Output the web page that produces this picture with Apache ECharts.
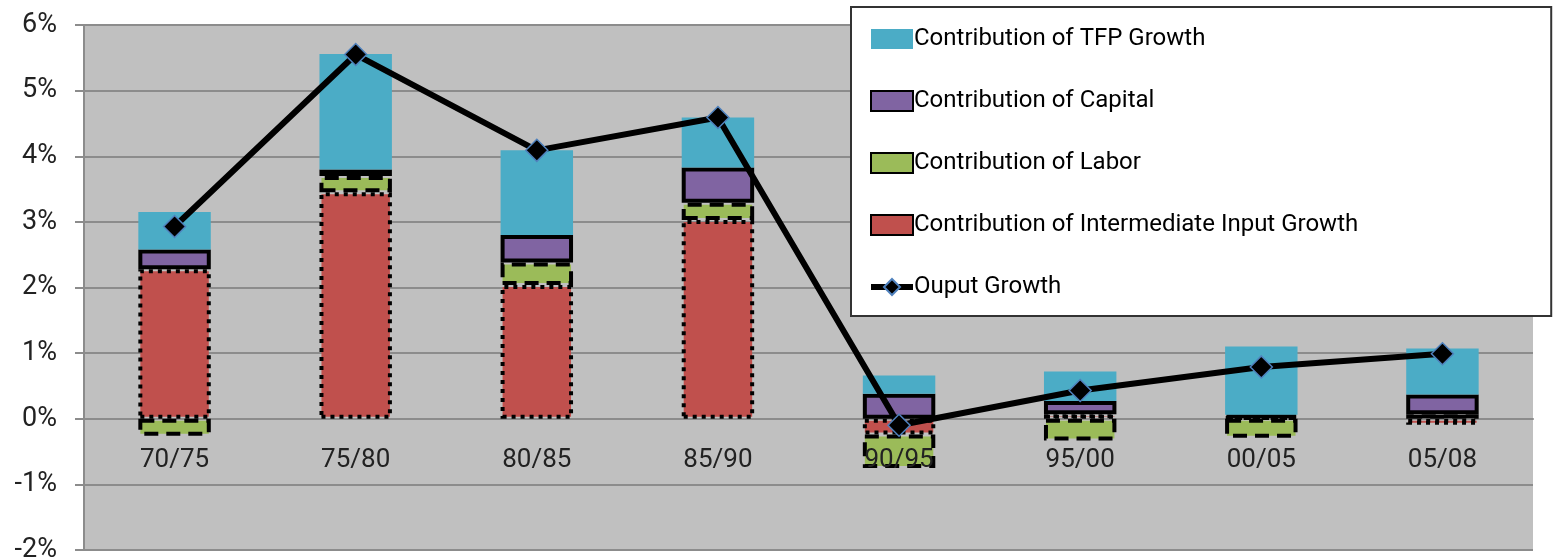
<!DOCTYPE html>
<html>
<head>
<meta charset="utf-8">
<script src="https://cdn.jsdelivr.net/npm/echarts@6/dist/echarts.min.js"></script>
<style>
  html, body { margin: 0; padding: 0; background: #fff; }
  #chart { width: 1559px; height: 560px; }
</style>
</head>
<body>
<div id="chart"></div>
<script>
// periods and growth contributions, in percent
var periods = ['70/75', '75/80', '80/85', '85/90', '90/95', '95/00', '00/05', '05/08'];
var intermediate = [2.28, 3.45, 2.04, 3.03, -0.24, 0.07, 0.02, -0.09];
var labor = [-0.26, 0.25, 0.34, 0.26, -0.51, -0.33, -0.29, 0.07];
var capital = [0.30, 0.10, 0.42, 0.54, 0.38, 0.20, 0.04, 0.30];
var tfp = [0.57, 1.76, 1.29, 0.76, 0.28, 0.45, 1.04, 0.70];
var output = [2.93, 5.55, 4.09, 4.59, -0.10, 0.43, 0.79, 0.99];

var yMin = -2, yMax = 6;
var font = 'Roboto, "Open Sans", sans-serif';

// grid box
var gTop = 25, gBottom = 10, H = 560;
// the category axis sits on the 0% line
var zeroOffset = -(H - gTop - gBottom) * (0 - yMin) / (yMax - yMin);

var chart = echarts.init(document.getElementById('chart'));
var option = {
  animation: false,
  backgroundColor: '#fff',
  textStyle: { fontFamily: font },
  grid: {
    left: 84, right: 26, top: gTop, bottom: gBottom,
    containLabel: false, outerBoundsMode: 'none',
    show: true, backgroundColor: '#c0c0c0', borderWidth: 0
  },
  legend: {
    orient: 'vertical',
    left: 851, top: 7,
    padding: [20, 193, 17, 17],
    itemGap: 38,
    itemWidth: 42, itemHeight: 20,
    backgroundColor: '#fff',
    borderColor: '#333', borderWidth: 2,
    textStyle: { fontSize: 24, color: '#000', fontFamily: font, padding: [0, 0, 0, -4] },
    data: [
      { name: 'Contribution of TFP Growth', icon: 'rect' },
      { name: 'Contribution of Capital', icon: 'rect' },
      { name: 'Contribution of Labor', icon: 'rect' },
      { name: 'Contribution of Intermediate Input Growth', icon: 'rect' },
      { name: 'Ouput Growth', lineStyle: { width: 6 } }
    ]
  },
  xAxis: [
    {
      type: 'category',
      data: periods,
      position: 'bottom',
      offset: zeroOffset,
      axisLine: { onZero: false, lineStyle: { color: '#8c8c8c', width: 2 } },
      axisTick: { length: 8, lineStyle: { color: '#8c8c8c', width: 2 } },
      axisLabel: { show: false }
    },
    {
      // labels only, drawn above the bars
      type: 'category',
      data: periods,
      position: 'bottom',
      offset: zeroOffset,
      z: 4,
      axisLine: { show: false, onZero: false },
      axisTick: { show: false },
      axisLabel: { fontSize: 26, color: '#222', margin: 29 }
    }
  ],
  yAxis: {
    type: 'value',
    min: yMin, max: yMax, interval: 1,
    axisLine: { show: true, onZero: false, lineStyle: { color: '#8c8c8c', width: 2 } },
    axisTick: { show: true, length: 9, lineStyle: { color: '#8c8c8c', width: 2 } },
    axisLabel: { formatter: '{value}%', fontSize: 27, color: '#222', margin: 27 },
    splitLine: { lineStyle: { color: '#8c8c8c', width: 2 } }
  },
  series: [
    {
      name: 'Contribution of Intermediate Input Growth',
      type: 'bar', stack: 'c', barWidth: '40%',
      data: intermediate,
      itemStyle: { color: '#c0504d', borderColor: '#000', borderWidth: 4, borderType: [4, 5] }
    },
    {
      name: 'Contribution of Labor',
      type: 'bar', stack: 'c',
      data: labor,
      itemStyle: { color: '#9bbb59', borderColor: '#000', borderWidth: 4, borderType: [14, 8] }
    },
    {
      name: 'Contribution of Capital',
      type: 'bar', stack: 'c',
      data: capital,
      itemStyle: { color: '#8064a2', borderColor: '#000', borderWidth: 4 }
    },
    {
      name: 'Contribution of TFP Growth',
      type: 'bar', stack: 'c',
      data: tfp,
      itemStyle: { color: '#4bacc6' }
    },
    {
      name: 'Ouput Growth',
      type: 'line',
      data: output,
      z: 5,
      symbol: 'diamond', symbolSize: 22,
      lineStyle: { color: '#000', width: 6 },
      itemStyle: { color: '#000', borderColor: '#4f81bd', borderWidth: 1.5 }
    }
  ]
};
chart.setOption(option);
</script>
</body>
</html>
